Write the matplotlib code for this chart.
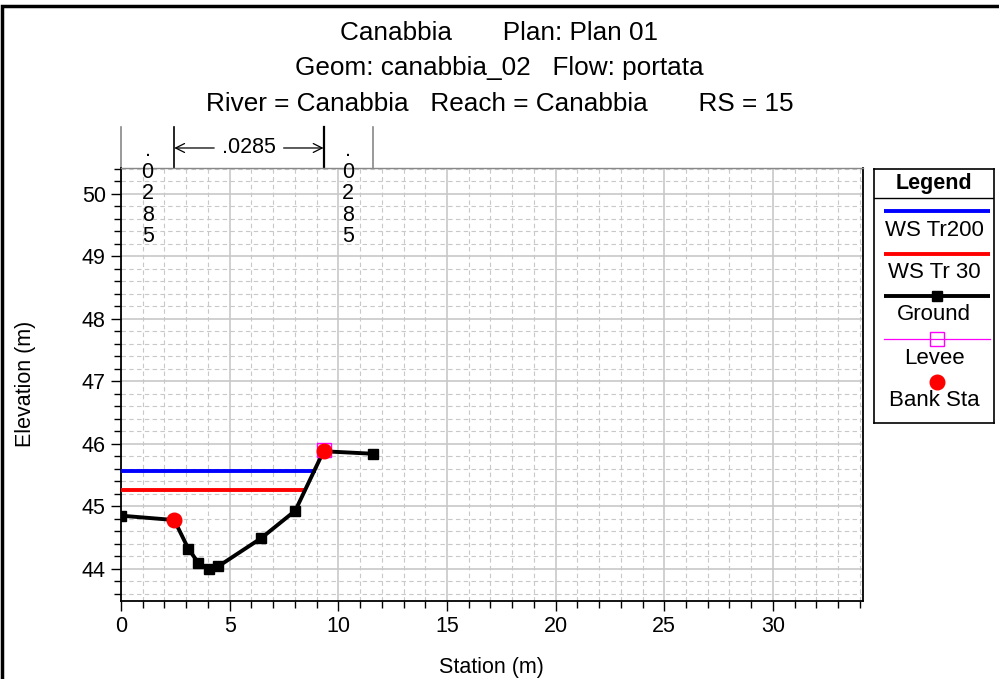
import matplotlib.pyplot as plt
from matplotlib.patches import Rectangle
from matplotlib.ticker import MultipleLocator

plt.rcParams['font.family'] = ['Liberation Sans', 'DejaVu Sans']

# Sezione trasversale RS 15
station = [0.0, 2.45, 3.1, 3.55, 4.05, 4.48, 6.45, 8.02, 9.32, 11.6]
ground = [44.85, 44.78, 44.32, 44.1, 43.99, 44.04, 44.49, 44.93, 45.88, 45.84]

bank_sta = [2.45, 9.32]
bank_elev = [44.78, 45.88]
levee_sta = [9.32]
levee_elev = [45.9]

ws200_sta = [0.0, 8.95]
ws200_elev = [45.57, 45.57]
ws30_sta = [0.0, 8.47]
ws30_elev = [45.26, 45.26]

# tratti di Manning (stazioni di cambio e valore n)
n_breaks = [0.0, 2.45, 9.32, 11.6]
n_values = [".0285", ".0285", ".0285"]

fig = plt.figure(figsize=(9.99, 6.79), dpi=100)
ax = fig.add_axes([121 / 999, 1 - 600.7 / 679, (862.5 - 121) / 999, (600.7 - 168) / 679])

ax.plot(ws200_sta, ws200_elev, color='#0000ff', lw=2.8, solid_capstyle='butt', zorder=3)
ax.plot(ws30_sta, ws30_elev, color='#ff0000', lw=2.8, solid_capstyle='butt', zorder=3)
ax.plot(station, ground, color='black', lw=2.8, marker='s', ms=6.5, zorder=4)
ax.plot(levee_sta, levee_elev, ls='none', marker='s', ms=9.5, mfc='none', mec='#ff00ff', mew=1, zorder=5)
ax.plot(bank_sta, bank_elev, ls='none', marker='o', ms=10.5, color='#ff0000', zorder=6)

ax.set_xlim(0, 34.12)
ax.set_ylim(43.49, 50.41)
ax.xaxis.set_major_locator(MultipleLocator(5))
ax.xaxis.set_minor_locator(MultipleLocator(1))
ax.yaxis.set_major_locator(MultipleLocator(1))
ax.yaxis.set_minor_locator(MultipleLocator(0.2))
ax.grid(which='major', color='#c8c8c8', lw=1.2, ls='-')
ax.grid(which='minor', color='#c8c8c8', lw=0.8, ls=(0, (4, 3)))
ax.set_axisbelow(True)
ax.tick_params(which='major', length=7, width=1, labelsize=15.5, direction='out', pad=4)
ax.tick_params(which='minor', length=5, width=1, direction='out')
for s in ax.spines.values():
    s.set_linewidth(1.3)
ax.spines['top'].set_color('#888888')
ax.spines['top'].set_linewidth(1)

# etichette degli assi in posizione fissa
fig.text(0.5 * (121 + 862.5) / 999, 1 - 667 / 679, "Station (m)", ha='center', va='center', fontsize=15.5)
fig.text(25 / 999, 1 - 384 / 679, "Elevation (m)", ha='center', va='center', rotation=90, fontsize=15.5)

# barre dei tratti di Manning sopra il grafico
y_top = 51.06
for k, sx in enumerate(n_breaks):
    col = 'black' if 0 < k < len(n_breaks) - 1 else '#888888'
    lw = 1.6 if k == 2 else 1.2
    ax.plot([sx, sx], [50.41, y_top], color=col, lw=lw, clip_on=False)

for k, nv in enumerate(n_values):
    xm = (n_breaks[k] + n_breaks[k + 1]) / 2
    if k == 1:
        ax.text(xm, 50.73, nv, fontsize=15.5, ha='center', va='center', zorder=7)
        for end in (n_breaks[k], n_breaks[k + 1]):
            ax.annotate("", xy=(end, 50.73), xytext=(xm, 50.73),
                        arrowprops=dict(arrowstyle='->', color='black', lw=0.9,
                                        shrinkA=25, shrinkB=0, mutation_scale=16),
                        annotation_clip=False)
    else:
        ax.text(xm, 50.86, "\n".join(nv), fontsize=15.5, ha='center', va='top',
                linespacing=1.04, clip_on=False)

fig.text(0.5, 1 - 33 / 679, "Canabbia       Plan: Plan 01", ha='center', va='center', fontsize=18.8)
fig.text(0.5, 1 - 68 / 679, "Geom: canabbia_02   Flow: portata", ha='center', va='center', fontsize=18.8)
fig.text(0.5, 1 - 104 / 679, "River = Canabbia   Reach = Canabbia       RS = 15",
         ha='center', va='center', fontsize=18.8)

# riquadro della legenda, in coordinate pixel
lg = fig.add_axes([874 / 999, 1 - 423 / 679, 120 / 999, 254 / 679])
lg.set_xlim(874, 994)
lg.set_ylim(423, 169)
lg.set_xticks([])
lg.set_yticks([])
for s in lg.spines.values():
    s.set_linewidth(1.2)
lg.axhline(198, color='black', lw=1)
lg.text(934, 183, "Legend", ha='center', va='center', fontsize=15.5, fontweight='bold')
lg.plot([884, 990], [211, 211], color='#0000ff', lw=2.8, solid_capstyle='butt')
lg.text(934, 230, "WS Tr200", ha='center', va='center', fontsize=16)
lg.plot([884, 990], [254, 254], color='#ff0000', lw=2.8, solid_capstyle='butt')
lg.text(934, 273, "WS Tr 30", ha='center', va='center', fontsize=16)
lg.plot([884, 990], [296, 296], color='black', lw=2.8, solid_capstyle='butt')
lg.plot([937], [296], marker='s', ms=6.5, color='black')
lg.text(934, 315, "Ground", ha='center', va='center', fontsize=16)
lg.plot([884, 990], [339, 339], color='#ff00ff', lw=0.9)
lg.plot([937], [339], marker='s', ms=9.5, mfc='none', mec='#ff00ff', mew=1)
lg.text(934, 358, "Levee", ha='center', va='center', fontsize=16)
lg.plot([937], [382], marker='o', ms=10.5, color='#ff0000')
lg.text(934, 401, "Bank Sta", ha='center', va='center', fontsize=16)

# cornice esterna
fig.patches.append(Rectangle((2 / 999, -0.1), 1.2, 1 - 6 / 679 + 0.1, transform=fig.transFigure,
                             fill=False, ec='black', lw=2.5))

fig.savefig("out.png", dpi=100)
